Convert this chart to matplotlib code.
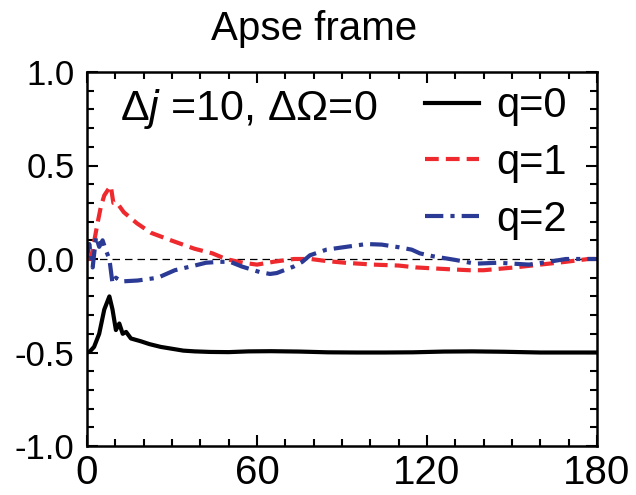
import matplotlib
matplotlib.use('Agg')
import matplotlib.pyplot as plt
from matplotlib.ticker import MultipleLocator

plt.rcParams['font.family'] = ['Liberation Sans', 'DejaVu Sans']
plt.rcParams['mathtext.fontset'] = 'custom'
plt.rcParams['mathtext.it'] = 'Liberation Sans:italic'
plt.rcParams['mathtext.rm'] = 'Liberation Sans'
plt.rcParams['axes.unicode_minus'] = False

# q=0 (black)
x0 = [0, 1, 2.5, 4.3, 6.1, 7.9, 9, 10.2, 11.4, 12.6, 13.8, 15.5, 19, 22, 26, 30, 34, 38, 43.5, 50, 57, 65, 75, 85, 95, 105, 115, 126, 136, 147, 160, 170, 180]
y0 = [-0.5, -0.495, -0.47, -0.40, -0.27, -0.20, -0.27, -0.38, -0.345, -0.40, -0.39, -0.425, -0.44, -0.455, -0.47, -0.48, -0.49, -0.494, -0.497, -0.498, -0.494, -0.493, -0.495, -0.499, -0.5, -0.5, -0.499, -0.495, -0.494, -0.496, -0.5, -0.5, -0.5]

# q=1 (red)
x1 = [0, 1.2, 2, 2.6, 3.7, 4.9, 6.1, 7.4, 8.4, 9.3, 10.6, 13, 17.7, 22.6, 29.6, 37.9, 44.3, 49, 55, 60, 65.8, 73, 79, 84, 91, 101, 110, 116, 128, 135, 140, 151, 160, 169, 177, 180]
y1 = [0.0, 0.0, 0.045, 0.10, 0.19, 0.28, 0.34, 0.37, 0.39, 0.30, 0.30, 0.25, 0.19, 0.14, 0.10, 0.055, 0.03, 0.0, -0.02, -0.03, -0.015, 0.0, 0.0, -0.01, -0.02, -0.03, -0.035, -0.045, -0.055, -0.06, -0.06, -0.045, -0.03, -0.015, 0.0, 0.0]

# q=2 (blue)
x2 = [0, 0.8, 2, 3.2, 4.3, 5.5, 6.7, 7.9, 9, 10.2, 12, 17.9, 25, 31, 38, 42, 47, 50.5, 54.6, 61, 64.6, 67, 73, 76, 78.7, 84.5, 91.5, 98.6, 104, 110, 114.6, 117.5, 122, 130, 137, 145, 156, 163, 169, 175, 180]
y2 = [0.01, 0.08, -0.045, 0.12, 0.065, 0.10, 0.045, 0.0, -0.13, -0.10, -0.12, -0.115, -0.10, -0.06, -0.035, -0.02, -0.015, -0.015, -0.04, -0.07, -0.08, -0.075, -0.04, -0.015, 0.02, 0.05, 0.065, 0.08, 0.077, 0.063, 0.05, 0.03, 0.015, -0.005, -0.025, -0.02, -0.03, -0.015, 0.0, 0.0, 0.0]

fig = plt.figure(figsize=(6.36, 4.95), dpi=100)
ax = fig.add_axes([87 / 636, 1 - 446 / 495, 510 / 636, 374 / 495])

ax.axhline(0, color='black', linestyle=(0, (6, 4)), linewidth=0.9)
ax.plot(x0, y0, color='black', linestyle='-', linewidth=3, label='q=0')
ax.plot(x1, y1, color='#ee2a2e', linestyle=(0, (3.3, 1.7)), linewidth=3, label='q=1')
ax.plot(x2, y2, color='#2b3a94', linestyle=(0, (4.4, 1.7, 1, 1.7)), linewidth=3, label='q=2')

ax.set_xlim(0, 180)
ax.set_ylim(-1.0, 1.0)
ax.xaxis.set_major_locator(MultipleLocator(60))
ax.xaxis.set_minor_locator(MultipleLocator(10))
ax.yaxis.set_major_locator(MultipleLocator(0.5))
ax.yaxis.set_minor_locator(MultipleLocator(0.1))
ax.tick_params(which='both', direction='in', top=True, right=True, width=1.5)
ax.tick_params(which='major', length=8)
ax.tick_params(which='minor', length=5)
ax.tick_params(axis='x', labelsize=29, pad=6)
ax.tick_params(axis='y', labelsize=25, pad=9)
for s in ax.spines.values():
    s.set_linewidth(1.8)

fig.text(314 / 636, 1 - 29 / 495, 'Apse frame', fontsize=29, ha='center', va='center')
ax.text(33 / 510, 1 - 37 / 374, r'Δ$\it{j}$ =10, ΔΩ=0', transform=ax.transAxes,
        fontsize=31, va='center')
ax.legend(loc='upper right', bbox_to_anchor=(1 - 18 / 510, 0.995), fontsize=30, frameon=False,
          handlelength=1.3, labelspacing=0.4, borderaxespad=0, borderpad=0.3,
          handletextpad=0.4)

plt.savefig('out.png')
